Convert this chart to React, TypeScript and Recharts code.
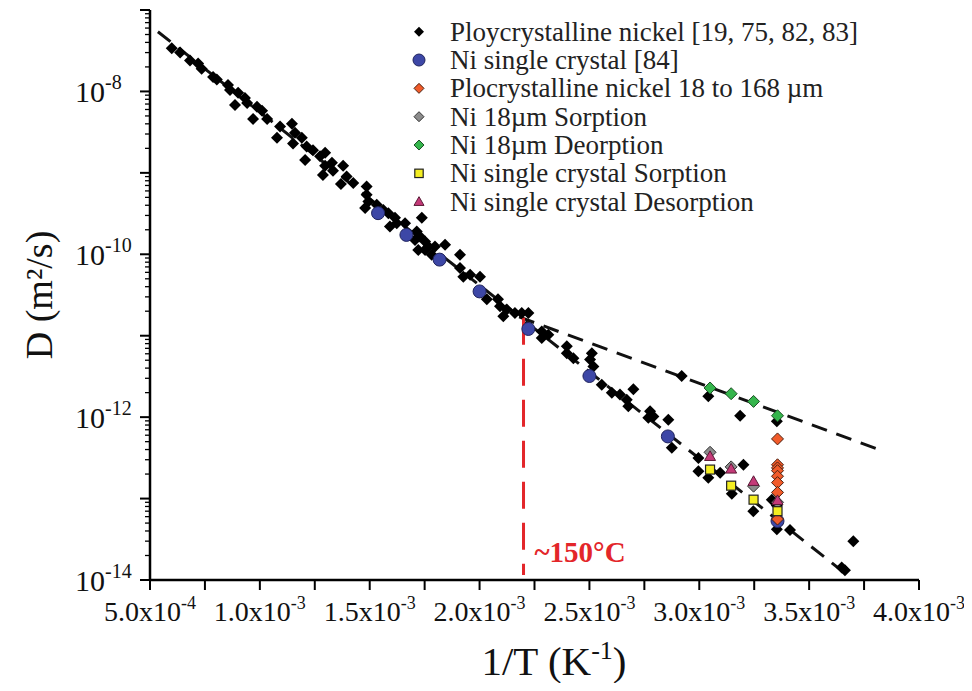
import React from 'react';
import { ComposedChart, Scatter, XAxis, YAxis, ReferenceDot, Legend, Label } from 'recharts';

const FONT = '"Liberation Serif", "Times New Roman", Times, serif';

// [1/T (K^-1), D (m^2/s)]
const polyNi: [number, number][] = [
  [0.599e-3, 3.4e-8], [0.637e-3, 3.0e-8], [0.682e-3, 2.4e-8], [0.719e-3, 2.2e-8], [0.735e-3, 1.9e-8],
  [0.787e-3, 1.5e-8], [0.804e-3, 1.4e-8], [0.855e-3, 1.2e-8], [0.864e-3, 1.04e-8], [0.887e-3, 6.8e-9],
  [0.901e-3, 9.6e-9], [0.932e-3, 8.3e-9], [0.942e-3, 7.2e-9], [0.969e-3, 4.6e-9], [0.987e-3, 6.5e-9],
  [1.010e-3, 5.8e-9], [1.033e-3, 4.6e-9], [1.078e-3, 2.7e-9], [1.092e-3, 3.7e-9], [1.146e-3, 4.0e-9],
  [1.160e-3, 3.1e-9], [1.151e-3, 2.3e-9], [1.191e-3, 2.7e-9], [1.206e-3, 1.44e-9], [1.213e-3, 2.1e-9],
  [1.242e-3, 1.9e-9], [1.274e-3, 1.6e-9], [1.297e-3, 1.76e-9], [1.297e-3, 1.22e-9], [1.287e-3, 9.4e-10],
  [1.328e-3, 1.33e-9], [1.333e-3, 1.06e-9], [1.379e-3, 1.22e-9], [1.369e-3, 7.3e-10], [1.395e-3, 9.0e-10],
  [1.425e-3, 7.5e-10], [1.486e-3, 6.8e-10], [1.486e-3, 5.4e-10], [1.494e-3, 4.45e-10], [1.479e-3, 3.7e-10],
  [1.532e-3, 4.05e-10], [1.562e-3, 3.5e-10], [1.585e-3, 3.2e-10], [1.592e-3, 2.2e-10], [1.615e-3, 2.8e-10],
  [1.623e-3, 2.4e-10], [1.661e-3, 2.4e-10], [1.737e-3, 2.8e-10], [1.714e-3, 1.9e-10], [1.706e-3, 1.5e-10],
  [1.729e-3, 1.65e-10], [1.721e-3, 1.13e-10], [1.752e-3, 1.44e-10], [1.767e-3, 1.25e-10], [1.752e-3, 1.13e-10],
  [1.782e-3, 9.9e-11], [1.797e-3, 1.25e-10], [1.843e-3, 1.31e-10], [1.911e-3, 9.9e-11], [1.911e-3, 6.8e-11],
  [1.926e-3, 5.3e-11], [1.957e-3, 5.6e-11], [2.002e-3, 5.3e-11], [2.033e-3, 2.8e-11], [2.084e-3, 2.8e-11],
  [2.093e-3, 2.3e-11], [2.108e-3, 1.73e-11], [2.124e-3, 2.1e-11], [2.161e-3, 1.9e-11], [2.192e-3, 1.9e-11],
  [2.222e-3, 1.9e-11], [2.283e-3, 1.13e-11], [2.283e-3, 9.4e-12], [2.313e-3, 1.03e-11], [2.397e-3, 7.4e-12],
  [2.397e-3, 6.1e-12], [2.427e-3, 5.3e-12], [2.511e-3, 6.1e-12], [2.503e-3, 5.1e-12], [2.518e-3, 4.2e-12],
  [2.556e-3, 2.5e-12], [2.602e-3, 2.0e-12], [2.639e-3, 1.9e-12], [2.670e-3, 1.64e-12], [2.700e-3, 2.2e-12],
  [2.677e-3, 1.36e-12], [2.776e-3, 1.18e-12], [2.791e-3, 1.02e-12], [2.768e-3, 9.8e-13], [2.859e-3, 9.3e-13],
  [2.875e-3, 4.2e-13], [2.920e-3, 3.2e-12], [3.041e-3, 1.8e-12], [3.186e-3, 1.04e-12], [3.353e-3, 8.9e-13],
  [2.996e-3, 3.15e-13], [2.996e-3, 2.16e-13], [3.041e-3, 1.8e-13], [3.095e-3, 2.07e-13], [3.201e-3, 2.6e-13],
  [3.148e-3, 1.15e-13], [3.246e-3, 7.0e-14], [3.330e-3, 9.7e-14], [3.353e-3, 8.2e-14], [3.353e-3, 4.2e-14],
  [3.413e-3, 4.1e-14], [3.701e-3, 3.0e-14], [3.663e-3, 1.32e-14], [3.648e-3, 1.42e-14],
];

const singleCrystal: [number, number][] = [
  [1.538e-3, 3.2e-10], [1.667e-3, 1.73e-10], [1.818e-3, 8.6e-11], [2.0e-3, 3.5e-11],
  [2.222e-3, 1.21e-11], [2.5e-3, 3.2e-12], [2.857e-3, 5.8e-13], [3.356e-3, 5.3e-14],
];

const polyNiGrain: [number, number][] = [
  [3.356e-3, 5.4e-13], [3.356e-3, 2.6e-13], [3.356e-3, 2.38e-13], [3.356e-3, 2.2e-13],
  [3.356e-3, 1.88e-13], [3.356e-3, 1.57e-13], [3.356e-3, 1.19e-13], [3.356e-3, 5.6e-14],
];

const ni18Sorption: [number, number][] = [
  [3.049e-3, 3.7e-13], [3.145e-3, 2.45e-13], [3.247e-3, 1.42e-13], [3.356e-3, 9.0e-14],
];

const ni18Desorption: [number, number][] = [
  [3.049e-3, 2.28e-12], [3.145e-3, 1.94e-12], [3.247e-3, 1.56e-12], [3.356e-3, 1.04e-12],
];

const scSorption: [number, number][] = [
  [3.049e-3, 2.27e-13], [3.145e-3, 1.44e-13], [3.247e-3, 9.7e-14], [3.356e-3, 7.0e-14],
];

const scDesorption: [number, number][] = [
  [3.049e-3, 3.3e-13], [3.145e-3, 2.31e-13], [3.247e-3, 1.63e-13], [3.356e-3, 9.5e-14],
];

const trendHigh: [number, number][] = [[0.536e-3, 5.4e-8], [3.677e-3, 1.13e-14]];
const trendLow: [number, number][] = [[2.18e-3, 1.7e-11], [3.84e-3, 3.8e-13]];
const transition: [number, number][] = [[2.2e-3, 1.66e-11], [2.2e-3, 1.15e-14]];
const transitionLabel = '~150°C';
const transitionLabelPos: [number, number] = [2.2e-3, 2.2e-14];

const legendNames = [
  'Ploycrystalline nickel [19, 75, 82, 83]',
  'Ni single crystal [84]',
  'Plocrystalline nickel 18 to 168 µm',
  'Ni 18µm Sorption',
  'Ni 18µm Deorption',
  'Ni single crystal Sorption',
  'Ni single crystal Desorption',
];

const xLabelTicks = [0.5e-3, 1.0e-3, 1.5e-3, 2.0e-3, 2.5e-3, 3.0e-3, 3.5e-3, 4.0e-3];
const xLabelMant = ['5.0', '1.0', '1.5', '2.0', '2.5', '3.0', '3.5', '4.0'];
const xLabelExp = ['-4', '-3', '-3', '-3', '-3', '-3', '-3', '-3'];
const xMinorTicks = [0.75e-3, 1.25e-3, 1.75e-3, 2.25e-3, 2.75e-3, 3.25e-3, 3.75e-3];
const xTicks = [...xLabelTicks, ...xMinorTicks].sort((a, b) => a - b);

const yDecades = [-14, -13, -12, -11, -10, -9, -8, -7];
const yLabelExps = [-14, -12, -10, -8];
const yTicks: number[] = [];
yDecades.forEach((e) => {
  yTicks.push(Number(`1e${e}`));
  if (e < -7) for (let m = 2; m <= 9; m++) yTicks.push(Number(`${m}e${e}`));
});

const toPts = (arr: [number, number][]) => arr.map(([x, y]) => ({ x, y }));

const isDecade = (v: number) => {
  const e = Math.round(Math.log10(v));
  return { e, major: Math.abs(v / Math.pow(10, e) - 1) < 1e-6 };
};

const XTick = (p: any) => {
  const { x, y, payload } = p;
  const i = xLabelTicks.findIndex((v) => Math.abs(v - payload.value) < 1e-9);
  return (
    <g>
      <line x1={x} y1={y} x2={x} y2={y + 10} stroke="#000" strokeWidth={2} />
      {i >= 0 && (
        <text x={x} y={y + 41} textAnchor="middle" fontFamily={FONT} fontSize={28} fill="#111">
          {xLabelMant[i]}x10
          <tspan dy={-12} fontSize={18}>{xLabelExp[i]}</tspan>
        </text>
      )}
    </g>
  );
};

const TopTick = (p: any) => {
  const { x, y } = p;
  return <line x1={x} y1={y} x2={x} y2={y + 6} stroke="#000" strokeWidth={1.5} />;
};

const YTick = (p: any) => {
  const { x, y, payload } = p;
  const { e, major } = isDecade(payload.value);
  const labeled = major && yLabelExps.includes(e);
  return (
    <g>
      <line x1={x} y1={y} x2={x - (major ? 10 : 5)} y2={y} stroke="#000" strokeWidth={major ? 2 : 1.3} />
      {labeled && (
        <text x={x - 75} y={y + 11} textAnchor="start" fontFamily={FONT} fontSize={30} fill="#111">
          10
          <tspan dy={-13} fontSize={20}>{`${e}`}</tspan>
        </text>
      )}
    </g>
  );
};

const RTick = (p: any) => {
  const { x, y, payload } = p;
  const { major } = isDecade(payload.value);
  return <line x1={x} y1={y} x2={x + (major ? 7 : 4)} y2={y} stroke="#000" strokeWidth={1.3} />;
};

const diamond = (fill: string, stroke: string, r: number, sw: number) => (p: any) => {
  const { cx, cy } = p;
  if (cx == null || cy == null) return <g />;
  return (
    <polygon
      points={`${cx},${cy - r} ${cx + r},${cy} ${cx},${cy + r} ${cx - r},${cy}`}
      fill={fill}
      stroke={stroke}
      strokeWidth={sw}
    />
  );
};
const circle = (fill: string, stroke: string, r: number) => (p: any) =>
  p.cx == null ? <g /> : <circle cx={p.cx} cy={p.cy} r={r} fill={fill} stroke={stroke} strokeWidth={1} />;
const square = (fill: string, stroke: string, h: number) => (p: any) =>
  p.cx == null ? <g /> : <rect x={p.cx - h} y={p.cy - h} width={2 * h} height={2 * h} fill={fill} stroke={stroke} strokeWidth={1.2} />;
const triangle = (fill: string, stroke: string, h: number) => (p: any) =>
  p.cx == null ? <g /> : (
    <polygon
      points={`${p.cx},${p.cy - h} ${p.cx + h},${p.cy + h * 0.75} ${p.cx - h},${p.cy + h * 0.75}`}
      fill={fill}
      stroke={stroke}
      strokeWidth={1}
    />
  );
const noShape = () => <g />;

const C_BLUE = '#3d47a6';
const C_ORANGE = '#f15b2a';
const C_GRAY = '#8c8c8c';
const C_GREEN = '#35b54c';
const C_YELLOW = '#f4ee22';
const C_PINK = '#c43a78';

const legendShapes = [
  diamond('#000', '#000', 5, 0),
  circle(C_BLUE, '#20245e', 6),
  diamond(C_ORANGE, '#4a2010', 5, 1),
  diamond(C_GRAY, '#333', 5, 1),
  diamond(C_GREEN, '#1c4f24', 5, 1),
  square(C_YELLOW, '#222', 4.2),
  triangle(C_PINK, '#5a1a36', 5),
];

const renderLegend = () => (
  <svg width={480} height={215} style={{ display: 'block' }}>
    {legendNames.map((n, i) => {
      const cy = 21.7 + 28.33 * i;
      const Shape = legendShapes[i];
      return (
        <g key={n}>
          {Shape({ cx: 19, cy })}
          <text x={50} y={cy + 9} fontFamily={FONT} fontSize={27} fill="#222">
            {n}
          </text>
        </g>
      );
    })}
  </svg>
);

const renderXTitle = (p: any) => {
  const vb = p.viewBox || { x: 142, y: 572, width: 769 };
  return (
    <text x={546} y={vb.y + 95} textAnchor="middle" fontFamily={FONT} fontSize={41} fill="#111">
      1/T (K
      <tspan dy={-16} fontSize={26}>-1</tspan>
      <tspan dy={16}>)</tspan>
    </text>
  );
};

const renderYTitle = () => (
  <text x={44} y={287} transform="rotate(-90 44 287)" textAnchor="middle" fontFamily={FONT} fontSize={38} fill="#111">
    D (m²/s)
  </text>
);

export default function App() {
  return (
    <ComposedChart width={956} height={675} margin={{ top: 2, right: 45, bottom: 0, left: 0 }}>
      <XAxis
        xAxisId="b"
        dataKey="x"
        type="number"
        domain={[0.5e-3, 4.0e-3]}
        allowDataOverflow
        ticks={xTicks}
        interval={0}
        tick={<XTick />}
        tickLine={false}
        tickSize={0}
        tickMargin={0}
        height={103}
        axisLine={{ stroke: '#000', strokeWidth: 2.5 }}
      >
        <Label content={renderXTitle} />
      </XAxis>
      <XAxis
        xAxisId="t"
        orientation="top"
        dataKey="x"
        type="number"
        domain={[0.5e-3, 4.0e-3]}
        allowDataOverflow
        ticks={xTicks}
        interval={0}
        tick={<TopTick />}
        tickLine={false}
        tickSize={0}
        tickMargin={0}
        height={0}
        axisLine={{ stroke: '#000', strokeWidth: 2.5 }}
      />
      <YAxis
        yAxisId="l"
        dataKey="y"
        type="number"
        scale="log"
        domain={[1e-14, 1e-7]}
        allowDataOverflow
        ticks={yTicks}
        interval={0}
        tick={<YTick />}
        tickLine={false}
        tickSize={0}
        tickMargin={0}
        width={142}
        axisLine={{ stroke: '#000', strokeWidth: 2.5 }}
      >
        <Label content={renderYTitle} />
      </YAxis>
      <YAxis
        yAxisId="r"
        orientation="right"
        dataKey="y"
        type="number"
        scale="log"
        domain={[1e-14, 1e-7]}
        allowDataOverflow
        ticks={yTicks}
        interval={0}
        tick={<RTick />}
        tickLine={false}
        tickSize={0}
        tickMargin={0}
        width={0}
        axisLine={{ stroke: '#000', strokeWidth: 2.5 }}
      />
      <Legend
        layout="vertical"
        align="center"
        verticalAlign="middle"
        content={renderLegend}
        wrapperStyle={{ top: 2, left: 392, width: 480, height: 215 }}
      />

      <Scatter xAxisId="b" yAxisId="l" data={toPts(trendHigh)} line={{ stroke: '#111', strokeWidth: 3, strokeDasharray: '16 10' }} shape={noShape} legendType="none" isAnimationActive={false} />
      <Scatter xAxisId="b" yAxisId="l" data={toPts(trendLow)} line={{ stroke: '#111', strokeWidth: 3, strokeDasharray: '16 10' }} shape={noShape} legendType="none" isAnimationActive={false} />
      <Scatter xAxisId="b" yAxisId="l" data={toPts(transition)} line={{ stroke: '#e3262a', strokeWidth: 3, strokeDasharray: '27 14' }} shape={noShape} legendType="none" isAnimationActive={false} />

      <Scatter name={legendNames[0]} xAxisId="b" yAxisId="l" data={toPts(polyNi)} shape={diamond('#000', '#000', 6, 0)} isAnimationActive={false} />
      <Scatter name={legendNames[1]} xAxisId="b" yAxisId="l" data={toPts(singleCrystal)} shape={circle(C_BLUE, '#20245e', 6.5)} isAnimationActive={false} />
      <Scatter name={legendNames[2]} xAxisId="b" yAxisId="l" data={toPts(polyNiGrain)} shape={diamond(C_ORANGE, '#4a2010', 6, 1)} isAnimationActive={false} />
      <Scatter name={legendNames[3]} xAxisId="b" yAxisId="l" data={toPts(ni18Sorption)} shape={diamond(C_GRAY, '#333', 6, 1)} isAnimationActive={false} />
      <Scatter name={legendNames[4]} xAxisId="b" yAxisId="l" data={toPts(ni18Desorption)} shape={diamond(C_GREEN, '#1c4f24', 6, 1)} isAnimationActive={false} />
      <Scatter name={legendNames[5]} xAxisId="b" yAxisId="l" data={toPts(scSorption)} shape={square(C_YELLOW, '#222', 4.5)} isAnimationActive={false} />
      <Scatter name={legendNames[6]} xAxisId="b" yAxisId="l" data={toPts(scDesorption)} shape={triangle(C_PINK, '#5a1a36', 5.5)} isAnimationActive={false} />

      <ReferenceDot
        xAxisId="b"
        yAxisId="l"
        x={transitionLabelPos[0]}
        y={transitionLabelPos[1]}
        r={0}
        fill="none"
        stroke="none"
        label={{ value: transitionLabel, position: 'right', offset: 11, fill: '#e3262a', fontSize: 29, fontWeight: 'bold', fontFamily: FONT }}
      />
    </ComposedChart>
  );
}
